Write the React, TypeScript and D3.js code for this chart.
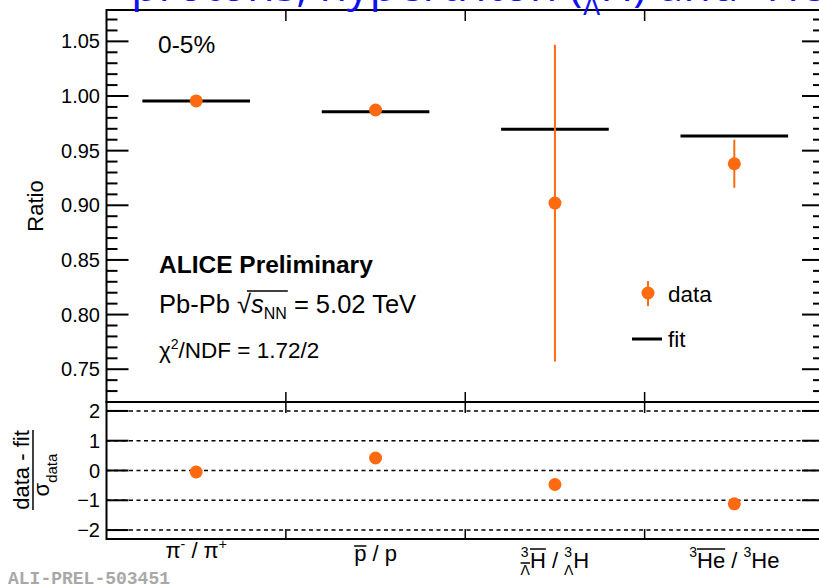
import React, { useEffect, useRef, useState } from "react";
import * as d3 from "d3";

// antimatter / matter ratios, 0-5% Pb-Pb
const categories = ["pi", "pbar", "hyp", "he3"];
const ratio = [0.9955, 0.9872, 0.902, 0.938];
const ratioErr = [0.002, 0.002, 0.145, 0.022];
const fitValue = [0.9955, 0.9855, 0.9695, 0.9635];
const residual = [-0.05, 0.42, -0.47, -1.12];
const ratioTicks = [0.75, 0.8, 0.85, 0.9, 0.95, 1.0, 1.05];
const residualTicks = [-2, -1, 0, 1, 2];

const W = 819, H = 587;
const left = 106.5, right = 824;
const topY = 10, midY = 402, botY = 539;
const ORANGE = "#ff6a10";
const FONT = "'Liberation Sans', Arial, Helvetica, sans-serif";

// baseline of each bin label + which chars get a bar on top [from, to, y]
const labelSpec: Record<string, { y: number; bars: number[][] }> = {
  pi: { y: 558, bars: [] },
  pbar: { y: 561, bars: [[0, 0, 546]] },
  hyp: { y: 568, bars: [[1, 1, 563], [2, 2, 549]] },
  he3: { y: 568, bars: [[1, 2, 549]] },
};

function CategoryLabel({ id, x }: { id: string; x: number }) {
  const ref = useRef<SVGTextElement>(null);
  const [bars, setBars] = useState<number[][]>([]);
  const spec = labelSpec[id];

  useEffect(() => {
    const el = ref.current;
    if (!el) return;
    try {
      setBars(spec.bars.map(([a, b, y]) => [el.getStartPositionOfChar(a).x, el.getEndPositionOfChar(b).x, y]));
    } catch (e) {
      console.log("label measure", e);
    }
  }, [id]);

  let body: React.ReactNode = null;
  if (id === "pi") {
    body = [
      <tspan key="a">π</tspan>,
      <tspan key="b" dy={-9} fontSize={14}>-</tspan>,
      <tspan key="c" dy={9}> / π</tspan>,
      <tspan key="d" dy={-9} fontSize={14}>+</tspan>,
    ];
  } else if (id === "pbar") {
    body = [<tspan key="a">p</tspan>, <tspan key="b"> / p</tspan>];
  } else if (id === "hyp") {
    body = [
      <tspan key="a" dy={-11} fontSize={14}>3</tspan>,
      <tspan key="b" dx={-8} dy={18} fontSize={14}>Λ</tspan>,
      <tspan key="c" dy={-7}>H</tspan>,
      <tspan key="d"> / </tspan>,
      <tspan key="e" dy={-11} fontSize={14}>3</tspan>,
      <tspan key="f" dx={-8} dy={18} fontSize={14}>Λ</tspan>,
      <tspan key="g" dy={-7}>H</tspan>,
    ];
  } else {
    body = [
      <tspan key="a" dy={-11} fontSize={14}>3</tspan>,
      <tspan key="b" dy={11}>He</tspan>,
      <tspan key="c"> / </tspan>,
      <tspan key="d" dy={-11} fontSize={14}>3</tspan>,
      <tspan key="e" dy={11}>He</tspan>,
    ];
  }
  return (
    <g>
      <text ref={ref} x={x} y={spec.y} textAnchor="middle" fontSize={22} fontFamily={FONT}>
        {body}
      </text>
      {bars.map((b, i) => (
        <line key={i} x1={b[0]} x2={b[1]} y1={b[2]} y2={b[2]} stroke="#000" strokeWidth={1.5} />
      ))}
    </g>
  );
}

export default function App() {
  const energyRef = useRef<SVGTextElement>(null);
  const [bar, setBar] = useState<number[] | null>(null);

  useEffect(() => {
    const el = energyRef.current;
    if (!el) return;
    try {
      const r = el.getStartPositionOfChar(6).x;
      const b = el.getEndPositionOfChar(9).x;
      setBar([r, b]);
    } catch (e) {
      console.log("measure error", e);
    }
  }, []);

  const x = d3.scaleBand<string>().domain(categories).range([left, right]);
  const bw = x.bandwidth();
  const cx = (c: string) => (x(c) as number) + bw / 2;

  const yTop = d3.scaleLinear().domain([0.72, 1.0787]).range([midY, topY]);
  const yBot = d3.scaleLinear().domain([-2.3, 2.3]).range([botY, midY]);

  const minor = d3.range(72, 108).map((v) => v / 100).filter((v) => Math.round(v * 100) % 5 !== 0);
  const bounds = categories.slice(1).map((c) => x(c) as number);
  const fmtTop = d3.format(".2f");
  const fmtBot = d3.format("d");

  return (
    <svg width={W} height={H} style={{ position: "absolute", left: 0, top: 0, background: "#fff" }}>
      <rect width={W} height={H} fill="#fff" />

      {/* top panel */}
      <g>
        {ratioTicks.map((t) => (
          <g key={t}>
            <line x1={left} x2={left + 22} y1={yTop(t)} y2={yTop(t)} stroke="#000" strokeWidth={2} />
            <line x1={right} x2={right - 22} y1={yTop(t)} y2={yTop(t)} stroke="#000" strokeWidth={2} />
            <text x={100} y={yTop(t) + 7} textAnchor="end" fontSize={20} fontFamily={FONT}>{fmtTop(t)}</text>
          </g>
        ))}
        {minor.map((t) => (
          <g key={"m" + t}>
            <line x1={left} x2={left + 11} y1={yTop(t)} y2={yTop(t)} stroke="#000" strokeWidth={2} />
            <line x1={right} x2={right - 11} y1={yTop(t)} y2={yTop(t)} stroke="#000" strokeWidth={2} />
          </g>
        ))}
        {bounds.map((b) => (
          <g key={"b" + b}>
            <line x1={b} x2={b} y1={topY} y2={topY + 11} stroke="#000" strokeWidth={1.5} />
            <line x1={b} x2={b} y1={midY} y2={midY - 10} stroke="#000" strokeWidth={1.5} />
          </g>
        ))}

        {categories.map((c, i) => (
          <line key={"f" + c} x1={(x(c) as number) + bw * 0.2} x2={(x(c) as number) + bw * 0.8}
            y1={yTop(fitValue[i])} y2={yTop(fitValue[i])} stroke="#000" strokeWidth={3} />
        ))}
        {categories.map((c, i) => (
          <g key={"d" + c}>
            <line x1={cx(c)} x2={cx(c)} y1={yTop(ratio[i] + ratioErr[i])} y2={yTop(ratio[i] - ratioErr[i])}
              stroke={ORANGE} strokeWidth={2} />
            <circle cx={cx(c)} cy={yTop(ratio[i])} r={6.5} fill={ORANGE} />
          </g>
        ))}

        <text x={158} y={53} fontSize={24.5} fontFamily={FONT}>0-5%</text>
        <text x={159} y={273} fontSize={24.5} fontWeight="bold" fontFamily={FONT}>ALICE Preliminary</text>
        <text ref={energyRef} x={159} y={313} fontSize={25.5} fontFamily={FONT}>
          Pb-Pb √<tspan fontStyle="italic">s</tspan><tspan dy={6} fontSize={16}>NN</tspan>
          <tspan dy={-6}> = 5.02 TeV</tspan>
        </text>
        {bar && (
          <line x1={bar[0] + 10} x2={bar[1] + 1} y1={291} y2={291} stroke="#000" strokeWidth={1.3} />
        )}
        <text x={159} y={358} fontSize={22.5} fontFamily={FONT}>
          χ<tspan dy={-9} fontSize={14}>2</tspan><tspan dy={9}>/NDF = 1.72/2</tspan>
        </text>

        {/* legend */}
        <line x1={648} x2={648} y1={281} y2={306} stroke={ORANGE} strokeWidth={2} />
        <circle cx={648} cy={293} r={6.5} fill={ORANGE} />
        <text x={668} y={302} fontSize={22.5} fontFamily={FONT}>data</text>
        <line x1={632} x2={662} y1={339} y2={339} stroke="#000" strokeWidth={3} />
        <text x={668} y={347} fontSize={22.5} fontFamily={FONT}>fit</text>

        <text transform={`translate(43,${(topY + midY) / 2}) rotate(-90)`} textAnchor="middle"
          fontSize={22} fontFamily={FONT}>Ratio</text>
      </g>

      {/* bottom panel */}
      <g>
        {residualTicks.map((t) => (
          <g key={"r" + t}>
            <line x1={left} x2={right} y1={yBot(t)} y2={yBot(t)} stroke="#000" strokeWidth={1.5} strokeDasharray="4,3.5" />
            <line x1={left} x2={left + 22} y1={yBot(t)} y2={yBot(t)} stroke="#000" strokeWidth={2} />
            <line x1={right} x2={right - 22} y1={yBot(t)} y2={yBot(t)} stroke="#000" strokeWidth={2} />
            <text x={100} y={yBot(t) + 7} textAnchor="end" fontSize={20} fontFamily={FONT}>{fmtBot(t)}</text>
          </g>
        ))}
        {bounds.map((b) => (
          <g key={"bb" + b}>
            <line x1={b} x2={b} y1={midY} y2={midY + 11} stroke="#000" strokeWidth={1.5} />
            <line x1={b} x2={b} y1={botY} y2={botY - 10} stroke="#000" strokeWidth={1.5} />
          </g>
        ))}
        {categories.map((c, i) => (
          <circle key={"res" + c} cx={cx(c)} cy={yBot(residual[i])} r={6.5} fill={ORANGE} />
        ))}
        {categories.map((c) => (
          <CategoryLabel key={"l" + c} id={c} x={cx(c)} />
        ))}

        <g transform={`translate(0,470) rotate(-90)`} fontFamily={FONT}>
          <text x={0} y={29} textAnchor="middle" fontSize={22}>data - fit</text>
          <line x1={-40} x2={40} y1={33} y2={33} stroke="#000" strokeWidth={1.5} />
          <text x={-5} y={49} textAnchor="middle" fontSize={22}>
            σ<tspan dy={8} fontSize={15}>data</tspan>
          </text>
        </g>
      </g>

      {/* frames */}
      <rect x={left} y={topY} width={right - left} height={midY - topY} fill="none" stroke="#000" strokeWidth={2} />
      <rect x={left} y={midY} width={right - left} height={botY - midY} fill="none" stroke="#000" strokeWidth={2} />

      {/* slide title, cut off by the top edge */}
      <text x={131} y={1} fontSize={45} fill="#1010f0" fontFamily="'Open Sans', 'Liberation Sans', sans-serif">
        protons, hypertriton (<tspan dy={-16} fontSize={28}>3</tspan>
        <tspan dx={-15} dy={30} fontSize={28}>Λ</tspan>
        <tspan dy={-14}>H) and </tspan>
        <tspan dy={-16} fontSize={28}>3</tspan>
        <tspan dy={16}>He</tspan>
      </text>

      <text x={8} y={584} fontSize={18} fontWeight="bold" fill="#a8a8a8" fontFamily="'Liberation Mono', 'DejaVu Sans Mono', monospace">
        ALI-PREL-503451
      </text>
    </svg>
  );
}
